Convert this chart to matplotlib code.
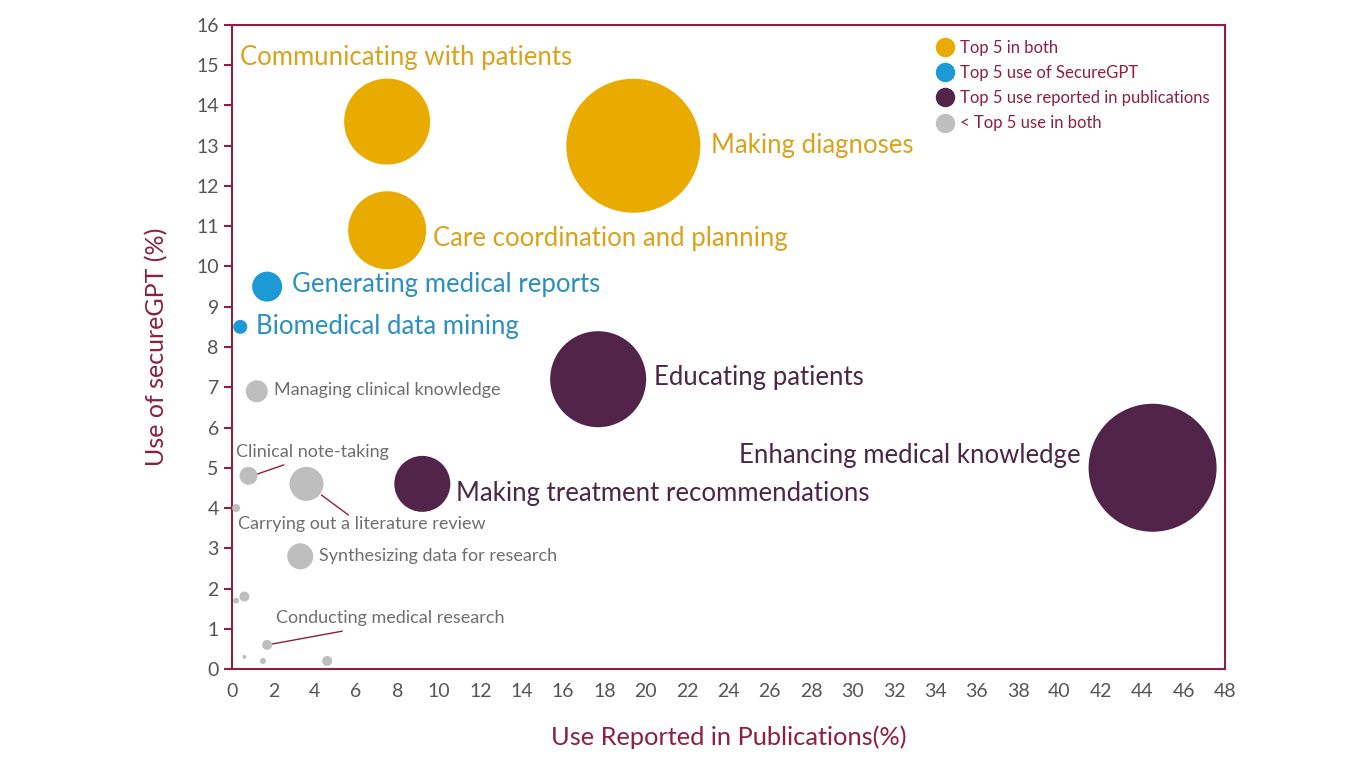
import matplotlib.pyplot as plt
from matplotlib.lines import Line2D

plt.rcParams['font.family'] = ['Lato', 'DejaVu Sans']

# bubble data: use in publications (%), use of SecureGPT (%), bubble radius (px), group
pub = [7.5, 19.4, 7.5, 1.7, 0.4, 17.7, 44.5, 9.2,
       1.2, 0.8, 3.6, 3.3, 0.2, 0.6, 0.2, 1.7, 0.6, 1.5, 4.6]
gpt = [13.6, 13.0, 10.9, 9.5, 8.5, 7.2, 5.0, 4.6,
       6.9, 4.8, 4.6, 2.8, 4.0, 1.8, 1.7, 0.6, 0.3, 0.2, 0.2]
radius = [43, 67, 39, 15, 7, 48, 64, 28,
          11, 9, 17, 13, 4, 5, 3, 5, 2, 3, 5]
group = ['both', 'both', 'both', 'gpt', 'gpt', 'pub', 'pub', 'pub',
         'low', 'low', 'low', 'low', 'low', 'low', 'low', 'low', 'low', 'low', 'low']

labels = ['Communicating with patients', 'Making diagnoses', 'Care coordination and planning',
          'Generating medical reports', 'Biomedical data mining', 'Educating patients',
          'Enhancing medical knowledge', 'Making treatment recommendations',
          'Managing clinical knowledge', 'Clinical note-taking', 'Carrying out a literature review',
          'Synthesizing data for research', 'Conducting medical research']
label_x = [0.4, 23.15, 9.7, 2.9, 1.15, 20.4, 41.0, 10.85, 2.05, 0.2, 0.3, 4.2, 2.15]
label_y = [15.2, 13.0, 10.7, 9.55, 8.52, 7.25, 5.3, 4.37, 6.93, 5.4, 3.6, 2.8, 1.27]
label_grp = ['both', 'both', 'both', 'gpt', 'gpt', 'pub', 'pub', 'pub',
             'low', 'low', 'low', 'low', 'low']

# leader lines (data coords)
leaders = [((1.2, 4.84), (2.5, 5.07)),
           ((4.33, 4.32), (5.62, 3.83)),
           ((1.93, 0.62), (5.32, 0.94))]

fill = {'both': '#EAAB00', 'gpt': '#1B9AD6', 'pub': '#52244A', 'low': '#BEBEBE'}
text_col = {'both': '#D9A21B', 'gpt': '#2B8FC0', 'pub': '#4B2646', 'low': '#6E6E6E'}
maroon = '#8E1F40'

fig = plt.figure(figsize=(13.59, 7.66), dpi=100)
ax = fig.add_axes([0.1707, 0.1266, 0.7307, 0.8408])

sizes = [(2 * r * 0.72) ** 2 for r in radius]
ax.scatter(pub, gpt, s=sizes, c=[fill[g] for g in group], linewidths=0, zorder=3)

for i, t in enumerate(labels):
    g = label_grp[i]
    fs = 13 if g == 'low' else 18.5
    ha = 'right' if t == 'Enhancing medical knowledge' else 'left'
    ax.text(label_x[i], label_y[i], t, color=text_col[g], fontsize=fs, ha=ha, va='center', zorder=4)

for (x0, y0), (x1, y1) in leaders:
    ax.plot([x0, x1], [y0, y1], color=maroon, lw=1, zorder=2)

ax.set_xlim(0, 48)
ax.set_ylim(0, 16)
ax.set_xticks(range(0, 49, 2))
ax.set_yticks(range(0, 17))
for s in ax.spines.values():
    s.set_color(maroon)
    s.set_linewidth(1.5)
ax.tick_params(axis='y', colors=maroon, length=6, width=1.5, labelcolor='#555555', labelsize=14)
ax.tick_params(axis='x', length=0, pad=10, labelcolor='#555555', labelsize=14)

ax.set_xlabel('Use Reported in Publications(%)', color=maroon, fontsize=18.3, labelpad=18)
ax.set_ylabel('Use of secureGPT (%)', color=maroon, fontsize=18, labelpad=20)

handles = [Line2D([], [], marker='o', ls='', markersize=14, markerfacecolor=fill[k],
                  markeredgewidth=0) for k in ['both', 'gpt', 'pub', 'low']]
leg = ax.legend(handles, ['Top 5 in both', 'Top 5 use of SecureGPT',
                          'Top 5 use reported in publications', '< Top 5 use in both'],
                loc='upper right', bbox_to_anchor=(1.0, 1.0), frameon=False, fontsize=12,
                handlelength=1.2, handletextpad=0.3, labelspacing=0.55, labelcolor=maroon)

fig.savefig('out.png', dpi=100)
